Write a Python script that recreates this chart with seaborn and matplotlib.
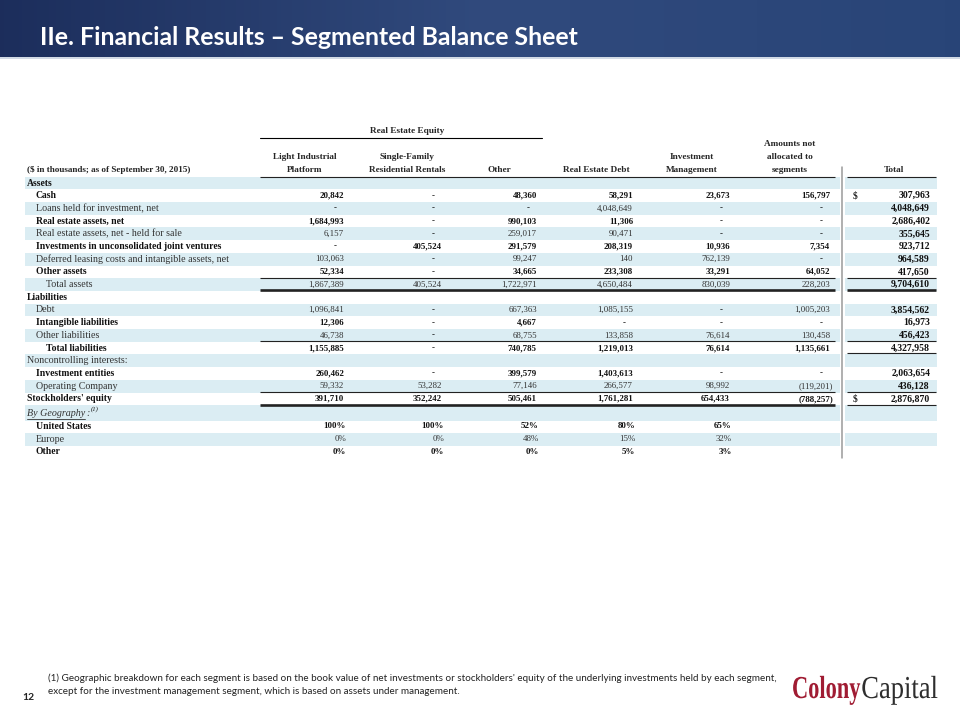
import numpy as np
import pandas as pd
import matplotlib
matplotlib.use("Agg")
import matplotlib.pyplot as plt
import seaborn as sns
from matplotlib.textpath import TextPath
from matplotlib.patches import PathPatch, Rectangle
from matplotlib.font_manager import FontProperties
from matplotlib.transforms import Affine2D

# ---------------- data ----------------
title = "IIe. Financial Results \u2013 Segmented Balance Sheet"
header_note = "($ in thousands; as of September 30, 2015)"
group_label = "Real Estate Equity"
column_headers = [["Light Industrial", "Platform"],
                  ["Single-Family", "Residential Rentals"],
                  ["Other"],
                  ["Real Estate Debt"],
                  ["Investment", "Management"],
                  ["Amounts not", "allocated to", "segments"],
                  ["Total"]]

row_labels = ["Assets", "Cash", "Loans held for investment, net", "Real estate assets, net",
              "Real estate assets, net - held for sale", "Investments in unconsolidated joint ventures",
              "Deferred leasing costs and intangible assets, net", "Other assets", "Total assets",
              "Liabilities", "Debt", "Intangible liabilities", "Other liabilities", "Total liabilities",
              "Noncontrolling interests:", "Investment entities", "Operating Company",
              "Stockholders' equity"]
row_indent = [0, 1, 1, 1, 1, 1, 1, 1, 2, 0, 1, 1, 1, 2, 0, 1, 1, 0]
row_bold = [1, 1, 0, 1, 0, 1, 0, 1, 0, 1, 0, 1, 0, 1, 0, 1, 0, 1]
row_shaded = [1, 0, 1, 0, 1, 0, 1, 0, 1, 0, 1, 0, 1, 0, 1, 0, 1, 0]

N = None
light_industrial = [N, 20842, 0, 1684993, 6157, 0, 103063, 52334, 1867389,
                    N, 1096841, 12306, 46738, 1155885, N, 260462, 59332, 391710]
single_family = [N, 0, 0, 0, 0, 405524, 0, 0, 405524,
                 N, 0, 0, 0, 0, N, 0, 53282, 352242]
re_other = [N, 48360, 0, 990103, 259017, 291579, 99247, 34665, 1722971,
            N, 667363, 4667, 68755, 740785, N, 399579, 77146, 505461]
re_debt = [N, 58291, 4048649, 11306, 90471, 208319, 140, 233308, 4650484,
           N, 1085155, 0, 133858, 1219013, N, 1403613, 266577, 1761281]
inv_mgmt = [N, 23673, 0, 0, 0, 10936, 762139, 33291, 830039,
            N, 0, 0, 76614, 76614, N, 0, 98992, 654433]
not_allocated = [N, 156797, 0, 0, 0, 7354, 0, 64052, 228203,
                 N, 1005203, 0, 130458, 1135661, N, 0, -119201, -788257]
total = [N, 307963, 4048649, 2686402, 355645, 923712, 964589, 417650, 9704610,
         N, 3854562, 16973, 456423, 4327958, N, 2063654, 436128, 2876870]

geo_header = "By Geography"
geo_labels = ["United States", "Europe", "Other"]
geo_bold = [1, 0, 1]
geo_shaded = [0, 1, 0]
geo_light_industrial = [100, 0, 0]
geo_single_family = [100, 0, 0]
geo_other = [52, 48, 0]
geo_re_debt = [80, 15, 5]
geo_inv_mgmt = [65, 32, 3]

footnote = ["(1) Geographic breakdown for each segment is based on the book value of net investments or stockholders' equity of the underlying investments held by each segment,",
            "except for the investment management segment, which is based on assets under management."]
page_number = "12"

# ---------------- layout ----------------
sns.set_theme(style="white")
plt.rcParams['font.family'] = ['Liberation Serif', 'DejaVu Serif']

fig = plt.figure(figsize=(9.6, 7.2), dpi=100)
ax = fig.add_axes([0, 0, 1, 1])
ax.set_xlim(0, 960)
ax.set_ylim(720, 0)
ax.axis("off")

# banner
grad = np.linspace(0, 1, 256)
r = np.interp(grad, [0, 0.5, 1], [0.11, 0.19, 0.16])
g = np.interp(grad, [0, 0.5, 1], [0.18, 0.29, 0.27])
b = np.interp(grad, [0, 0.5, 1], [0.36, 0.49, 0.47])
img = np.dstack([np.tile(r, (10, 1)), np.tile(g, (10, 1)), np.tile(b, (10, 1))])
ax.imshow(img, extent=[0, 960, 57, 0], aspect="auto", zorder=0)
ax.plot([0, 960], [57.5, 57.5], color="#c9d3e0", lw=1.2, zorder=1)
ax.text(40, 45, title, color="white", fontsize=17.9, fontweight="bold",
        family=["Lato", "DejaVu Sans"], va="baseline", ha="left", zorder=2)

columns = [light_industrial, single_family, re_other, re_debt, inv_mgmt, not_allocated, total]
geo_columns = [geo_light_industrial, geo_single_family, geo_other, geo_re_debt, geo_inv_mgmt]
col_right = [344, 442, 537, 633, 730, 830, 930]
col_center = [305, 407, 499, 596, 692, 790, 894]
indent_x = [27, 36, 46]

y0, step = 183.0, 12.7
row_y = [y0 + i * step for i in range(len(row_labels))]
geo_head_y = 413.0
geo_y = [426.5 + i * step for i in range(len(geo_labels))]

band_color = "#dbedf3"
band_left, band_split_l, band_split_r, band_right = 25, 840, 845, 937


def band(yc, h=12.7):
    ax.add_patch(Rectangle((band_left, yc - h / 2), band_split_l - band_left, h,
                           facecolor=band_color, edgecolor="none", zorder=0.5))
    ax.add_patch(Rectangle((band_split_r, yc - h / 2), band_right - band_split_r, h,
                           facecolor=band_color, edgecolor="none", zorder=0.5))


for yc, sh in zip(row_y, row_shaded):
    if sh:
        band(yc)
band(geo_head_y, 15.5)
for yc, sh in zip(geo_y, geo_shaded):
    if sh:
        band(yc)

# headers
hdr_fs = 6.7
ax.text(407, 131, group_label, fontsize=hdr_fs, fontweight="bold", ha="center", va="center")
ax.plot([260, 542], [137.5, 137.5], color="black", lw=0.8)
ax.text(27, 170, header_note, fontsize=hdr_fs - 0.1, fontweight="bold", ha="left", va="center")
for cx, lines in zip(col_center, column_headers):
    n = len(lines)
    for k, line in enumerate(lines):
        yy = 170 - (n - 1 - k) * 13
        ax.text(cx, yy, line, fontsize=hdr_fs, fontweight="bold", ha="center", va="center")

L1 = (260, 835)
L2 = (847, 936)


def hline(y, parts=(L1, L2), lw=0.8, color="#222222"):
    for a, bb in parts:
        ax.plot([a, bb], [y, y], color=color, lw=lw, solid_capstyle="butt", zorder=3)


hline(176.5)
hline(278.3)
hline(290.3, lw=1.9)
hline(341.2)
hline(353.3, parts=(L2,))
hline(392.2)
hline(404.8, parts=(L1,), lw=1.9)
hline(404.8, parts=(L2,))
ax.plot([842, 842], [167, 458], color="#9a9a9a", lw=1.1, zorder=3)

label_fs_reg = 7.2
label_fs_bold = 6.9
num_fs = 6.4
tot_fs = 7.0
txt_dark = "#111111"
txt_light = "#333333"


def fmt(v):
    if v == 0:
        return "-"
    if v < 0:
        return "({:,})".format(-v)
    return "{:,}".format(v)


for i, lab in enumerate(row_labels):
    yc = row_y[i]
    bold = row_bold[i]
    ax.text(indent_x[row_indent[i]], yc, lab, fontsize=label_fs_bold if bold else label_fs_reg,
            fontweight="bold" if bold else "normal",
            color=txt_dark if bold else txt_light, ha="left", va="center")
    for j, col in enumerate(columns):
        v = col[i]
        if v is None:
            continue
        s = fmt(v)
        is_total = (j == len(columns) - 1)
        fw = "bold" if (bold or is_total) else "normal"
        fs = tot_fs if is_total else num_fs
        colr = txt_dark if (bold or is_total) else txt_light
        if s == "-":
            ax.text(col_right[j] - 9, yc, s, fontsize=fs, fontweight="bold",
                    color=txt_dark, ha="center", va="center")
        elif v < 0:
            ax.text(col_right[j] + 3, yc, s, fontsize=fs, fontweight=fw, color=colr,
                    ha="right", va="center")
        else:
            ax.text(col_right[j], yc, s, fontsize=fs, fontweight=fw, color=colr,
                    ha="right", va="center")

# dollar signs
for i in (1, len(row_labels) - 1):
    ax.text(853, row_y[i], "$", fontsize=tot_fs, fontweight="bold", ha="left", va="center")

# geography header (italic, underlined, superscript)
fig.canvas.draw()
renderer = fig.canvas.get_renderer()
gt = ax.text(27, geo_head_y + 1, geo_header, fontsize=label_fs_reg, style="italic",
             color=txt_light, ha="left", va="center")
bb = gt.get_window_extent(renderer=renderer)
inv = ax.transData.inverted()
(x0d, _), (x1d, _) = inv.transform([[bb.x0, bb.y0], [bb.x1, bb.y0]])
ax.plot([x0d, x1d], [geo_head_y + 5.5, geo_head_y + 5.5], color=txt_light, lw=0.6)
ax.text(x1d + 1, geo_head_y + 1, ":", fontsize=label_fs_reg, style="italic",
        color=txt_light, ha="left", va="center")
ax.text(x1d + 5.5, geo_head_y - 3.5, "(1)", fontsize=4.8, style="italic",
        color=txt_dark, ha="left", va="center")

for i, lab in enumerate(geo_labels):
    yc = geo_y[i]
    bold = geo_bold[i]
    ax.text(indent_x[1], yc, lab, fontsize=label_fs_bold if bold else label_fs_reg,
            fontweight="bold" if bold else "normal",
            color=txt_dark if bold else txt_light, ha="left", va="center")
    for j, col in enumerate(geo_columns):
        ax.text(col_right[j] + 2, yc, "{}%".format(col[i]), fontsize=num_fs,
                fontweight="bold" if bold else "normal",
                color=txt_dark if bold else txt_light, ha="right", va="center")

# footnote
for k, line in enumerate(footnote):
    ax.text(48, 678.5 + k * 13.5, line, fontsize=7.15, family=["Lato", "DejaVu Sans"],
            color="#222222", ha="left", va="center")
ax.text(22, 698, page_number, fontsize=7.5, fontweight="bold", family=["Lato", "DejaVu Sans"],
        color="#222222", ha="left", va="center")


# logo
def logo_word(s, x, baseline, em, sx, weight, color):
    fp = FontProperties(family="Liberation Serif", weight=weight)
    tp = TextPath((0, 0), s, size=em, prop=fp)
    tr = Affine2D().scale(sx, -1).translate(x, baseline)
    patch = PathPatch(tr.transform_path(tp), facecolor=color, edgecolor="none", zorder=4)
    ax.add_patch(patch)
    ext = tp.get_extents()
    return x + ext.x1 * sx


xe = logo_word("Colony", 792, 698, 32, 0.70, "bold", "#a01c33")
logo_word("Capital", xe + 1, 698, 32, 0.83, "normal", "#2e2e2e")

fig.savefig("out.png", dpi=100)
